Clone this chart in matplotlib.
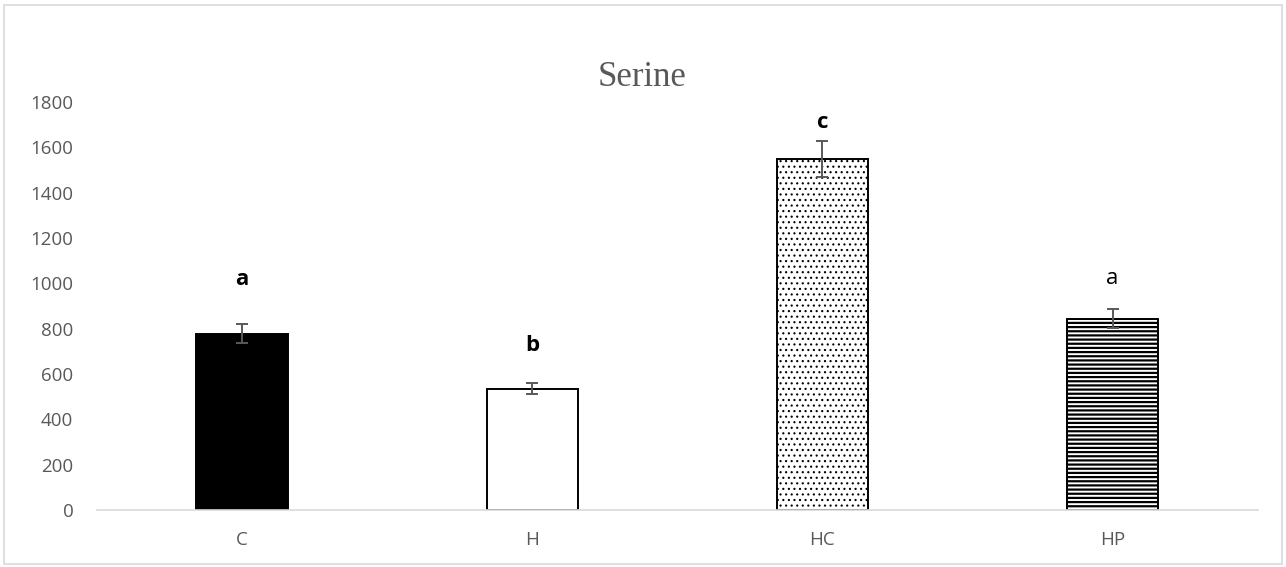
import numpy as np
import matplotlib.pyplot as plt
from matplotlib.patches import Rectangle

# ---------------- data ----------------
groups = ["C", "H", "HC", "HP"]
serine = [778, 535, 1548, 845]
serine_err = [42, 25, 78, 42]
letters = ["a", "b", "c", "a"]
letter_bold = [True, True, True, False]
letter_y = [1015, 728, 1712, 1022]

# bar styles: face colour and hatch per group
faces = ["black", "white", "white", "white"]
hatches = [None, None, "...", "----"]

plt.rcParams["font.family"] = ["Open Sans", "DejaVu Sans"]
grey = "#595959"

fig = plt.figure(figsize=(12.86, 5.67), dpi=100)
ax = fig.add_axes([0.0754, 0.1005, 0.9026, 0.7195])

x = np.arange(len(groups))
for i in range(len(groups)):
    plt.rcParams["hatch.linewidth"] = 1.6 if hatches[i] == "----" else 0.8
    b = ax.bar(x[i], serine[i], width=0.315, color=faces[i],
               edgecolor="black", linewidth=1.4, hatch=hatches[i], zorder=2)
    if hatches[i] and hasattr(b[0], "set_hatch_linewidth"):
        b[0].set_hatch_linewidth(plt.rcParams["hatch.linewidth"])

ax.errorbar(x, serine, yerr=serine_err, fmt="none", ecolor=grey,
            elinewidth=1.4, capsize=4.5, capthick=1.4, zorder=3)

for i in range(len(groups)):
    ax.text(x[i], letter_y[i], letters[i], ha="center", va="center",
            fontsize=16, color="black",
            fontweight="bold" if letter_bold[i] else "normal")

ax.set_xlim(-0.5, len(groups) - 0.5)
ax.set_ylim(0, 1800)
ax.set_yticks(np.arange(0, 1801, 200))
ax.set_xticks(x)
ax.set_xticklabels(groups)
ax.tick_params(length=0, labelsize=13.5, labelcolor=grey)
ax.tick_params(axis="x", pad=15)
ax.tick_params(axis="y", pad=17)

for s in ["top", "right", "left"]:
    ax.spines[s].set_visible(False)
ax.spines["bottom"].set_color("#d9d9d9")
ax.spines["bottom"].set_linewidth(1.2)

fig.text(0.4995, 0.864, "Serine", ha="center", va="center",
         fontsize=25, color=grey, family="Liberation Serif")

# thin frame around the whole chart
fig.patches.append(Rectangle((0.003, 0.006), 0.994, 0.985, transform=fig.transFigure,
                             fill=False, edgecolor="#d9d9d9", linewidth=1.2))

fig.savefig("out.png", dpi=100)
